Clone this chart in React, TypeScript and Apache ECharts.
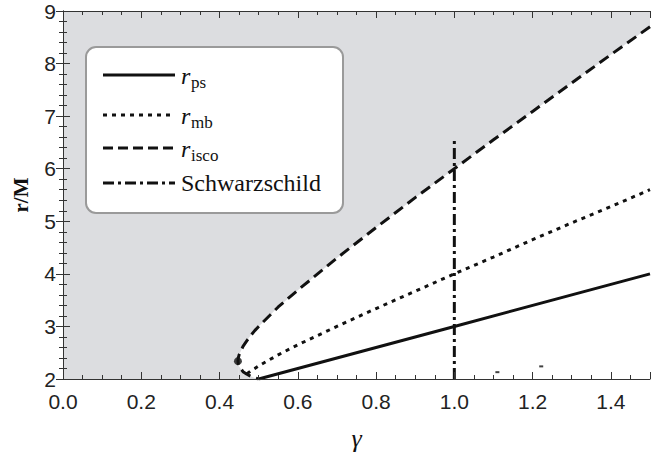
import React, { useEffect, useRef } from "react";
import * as echarts from "echarts";

// gamma values and r/M readings for the ISCO curve (upper branch from right to cusp, then lower branch)
const iscoGamma = [1.5, 1.4, 1.3, 1.2, 1.1, 1.0, 0.9, 0.8, 0.7, 0.6, 0.55, 0.5, 0.49, 0.48, 0.47, 0.46, 0.45, 0.448, 0.4472, 0.448, 0.45, 0.46, 0.47, 0.48, 0.49, 0.5];
const iscoR = [8.70, 8.17, 7.63, 7.09, 6.55, 6.0, 5.45, 4.88, 4.30, 3.69, 3.37, 3.0, 2.92, 2.83, 2.73, 2.62, 2.46, 2.40, 2.342, 2.285, 2.24, 2.14, 2.09, 2.05, 2.02, 2.0];
// upper branch only (for the white allowed region)
const upperGamma = [0.4472, 0.448, 0.45, 0.46, 0.47, 0.48, 0.49, 0.5, 0.55, 0.6, 0.7, 0.8, 0.9, 1.0, 1.1, 1.2, 1.3, 1.4, 1.5];
const upperR = [2.342, 2.40, 2.46, 2.62, 2.73, 2.83, 2.92, 3.0, 3.37, 3.69, 4.30, 4.88, 5.45, 6.0, 6.55, 7.09, 7.63, 8.17, 8.70];
// lower branch (gray below it)
const lowerGamma = [0.4472, 0.448, 0.45, 0.46, 0.47, 0.48, 0.49, 0.5];
const lowerR = [2.342, 2.285, 2.24, 2.14, 2.09, 2.05, 2.02, 2.0];
// marginally bound orbit
const mbGamma = [0.47, 0.48, 0.49, 0.5, 0.55, 0.6, 0.7, 0.8, 0.9, 1.0, 1.1, 1.2, 1.3, 1.4, 1.5];
const mbR = [2.10, 2.155, 2.20, 2.25, 2.46, 2.65, 3.0, 3.34, 3.67, 4.0, 4.32, 4.65, 4.97, 5.28, 5.60];
// photon sphere
const psGamma = [0.5, 1.0, 1.5];
const psR = [2.0, 3.0, 4.0];
// Schwarzschild line
const schwGamma = [1.0, 1.0];
const schwR = [2.0, 6.55];
// cusp point and small stray marks
const cusp = [0.447, 2.34];
const strayGamma = [1.11, 1.222];
const strayR = [2.13, 2.24];

const xTicks = { min: 0, max: 1.5, interval: 0.2 };
const yTicks = { min: 2, max: 9, interval: 1 };

const zip = (a: number[], b: number[]) => a.map((v, i) => [v, b[i]]);

const FRAME = "#333333";
const GRAY = "#dcdde0";

export default function App() {
  const ref = useRef<HTMLDivElement>(null);
  useEffect(() => {
    if (!ref.current) return;
    const chart = echarts.init(ref.current, undefined, { renderer: "svg" });
    const baseAxis = {
      axisLine: { show: true, lineStyle: { color: FRAME, width: 1 } },
      axisTick: { show: true, inside: true, length: 7, lineStyle: { color: FRAME } },
      minorTick: { show: true, length: 4, lineStyle: { color: FRAME } },
      splitLine: { show: false },
      z: 10,
    };
    const legendY = [75, 115, 148, 183];
    const legendX1 = 103;
    const legendX2 = 175;
    const textX = 181;
    const lineStyleBlack = { stroke: "#111", lineWidth: 3 };
    const rFont = "italic 24px 'Liberation Serif'";
    const subFont = "17px 'Liberation Serif'";
    chart.setOption({
      animation: false,
      grid: { left: 63, right: 2, top: 11, bottom: 87, show: true, backgroundColor: GRAY, borderWidth: 0 },
      xAxis: [
        {
          ...baseAxis,
          type: "value",
          position: "bottom",
          min: xTicks.min,
          max: xTicks.max,
          interval: xTicks.interval,
          minorTick: { show: true, splitNumber: 4, length: 4, lineStyle: { color: FRAME } },
          axisLabel: {
            color: "#222",
            fontFamily: "Liberation Sans",
            fontSize: 21,
            margin: 12,
            formatter: (v: number) => v.toFixed(1),
            showMaxLabel: false,
          },
          name: "γ",
          nameLocation: "middle",
          nameGap: 46,
          nameTextStyle: { fontFamily: "Liberation Serif", fontStyle: "italic", fontSize: 26, color: "#111" },
        },
        {
          ...baseAxis,
          type: "value",
          position: "top",
          min: xTicks.min,
          max: xTicks.max,
          interval: xTicks.interval,
          minorTick: { show: true, splitNumber: 4, length: 4, lineStyle: { color: FRAME } },
          axisLabel: { show: false },
        },
      ],
      yAxis: [
        {
          ...baseAxis,
          type: "value",
          position: "left",
          min: yTicks.min,
          max: yTicks.max,
          interval: yTicks.interval,
          minorTick: { show: true, splitNumber: 5, length: 4, lineStyle: { color: FRAME } },
          axisLabel: { color: "#222", fontFamily: "Liberation Sans", fontSize: 21, margin: 7 },
          name: "r/M",
          nameLocation: "middle",
          nameGap: 32,
          nameRotate: 90,
          nameTextStyle: { fontFamily: "Liberation Serif", fontWeight: "bold", fontSize: 21, color: "#111" },
        },
        {
          ...baseAxis,
          type: "value",
          position: "right",
          min: yTicks.min,
          max: yTicks.max,
          interval: yTicks.interval,
          minorTick: { show: true, splitNumber: 5, length: 4, lineStyle: { color: FRAME } },
          axisLabel: { show: false },
        },
      ],
      series: [
        {
          type: "line",
          data: zip(upperGamma, upperR),
          symbol: "none",
          lineStyle: { width: 0 },
          areaStyle: { color: "#ffffff", opacity: 1, origin: "start" },
          z: 1,
          silent: true,
        },
        {
          type: "line",
          data: zip(lowerGamma, lowerR),
          symbol: "none",
          lineStyle: { width: 0 },
          areaStyle: { color: GRAY, opacity: 1, origin: "start" },
          z: 1,
          silent: true,
        },
        {
          name: "r_ps",
          type: "line",
          data: zip(psGamma, psR),
          symbol: "none",
          lineStyle: { color: "#111", width: 3, type: "solid" },
          z: 3,
        },
        {
          name: "r_mb",
          type: "line",
          data: zip(mbGamma, mbR),
          symbol: "none",
          lineStyle: { color: "#111", width: 3, type: [4, 5] },
          z: 3,
        },
        {
          name: "r_isco",
          type: "line",
          data: zip(iscoGamma, iscoR),
          symbol: "none",
          lineStyle: { color: "#111", width: 3, type: [11, 6] },
          z: 3,
        },
        {
          name: "Schwarzschild",
          type: "line",
          data: zip(schwGamma, schwR),
          symbol: "none",
          lineStyle: { color: "#111", width: 3, type: [11, 4, 3, 4] },
          z: 3,
        },
        {
          type: "scatter",
          data: [cusp],
          symbol: "circle",
          symbolSize: 8,
          itemStyle: { color: "#111" },
          z: 4,
        },
        {
          type: "scatter",
          data: zip(strayGamma, strayR),
          symbol: "rect",
          symbolSize: [4, 2],
          itemStyle: { color: "#111" },
          z: 4,
        },
      ],
      graphic: [
        {
          type: "rect",
          z: 20,
          shape: { x: 86, y: 47, width: 257, height: 166, r: 10 },
          style: { fill: "#ffffff", stroke: "#9a9a9a", lineWidth: 2 },
        },
        { type: "line", z: 21, shape: { x1: legendX1, y1: legendY[0], x2: legendX2, y2: legendY[0] }, style: { ...lineStyleBlack } },
        { type: "line", z: 21, shape: { x1: legendX1, y1: legendY[1], x2: legendX2, y2: legendY[1] }, style: { ...lineStyleBlack, lineDash: [4, 5] } },
        { type: "line", z: 21, shape: { x1: legendX1, y1: legendY[2], x2: legendX2, y2: legendY[2] }, style: { ...lineStyleBlack, lineDash: [10, 5] } },
        { type: "line", z: 21, shape: { x1: legendX1, y1: legendY[3], x2: legendX2, y2: legendY[3] }, style: { ...lineStyleBlack, lineDash: [11, 4, 3, 4] } },
        { type: "text", z: 21, x: textX, y: legendY[0] + 1, style: { text: "r", font: rFont, fill: "#111", verticalAlign: "middle" } },
        { type: "text", z: 21, x: textX + 10, y: legendY[0] + 7, style: { text: "ps", font: subFont, fill: "#111", verticalAlign: "middle" } },
        { type: "text", z: 21, x: textX, y: legendY[1] + 1, style: { text: "r", font: rFont, fill: "#111", verticalAlign: "middle" } },
        { type: "text", z: 21, x: textX + 10, y: legendY[1] + 7, style: { text: "mb", font: subFont, fill: "#111", verticalAlign: "middle" } },
        { type: "text", z: 21, x: textX, y: legendY[2] + 1, style: { text: "r", font: rFont, fill: "#111", verticalAlign: "middle" } },
        { type: "text", z: 21, x: textX + 10, y: legendY[2] + 7, style: { text: "isco", font: subFont, fill: "#111", verticalAlign: "middle" } },
        { type: "text", z: 21, x: textX, y: legendY[3], style: { text: "Schwarzschild", font: "24px 'Liberation Serif'", fill: "#111", verticalAlign: "middle" } },
      ],
    });
    return () => chart.dispose();
  }, []);
  return <div ref={ref} style={{ width: 652, height: 466, position: "absolute", left: 0, top: 0 }} />;
}
